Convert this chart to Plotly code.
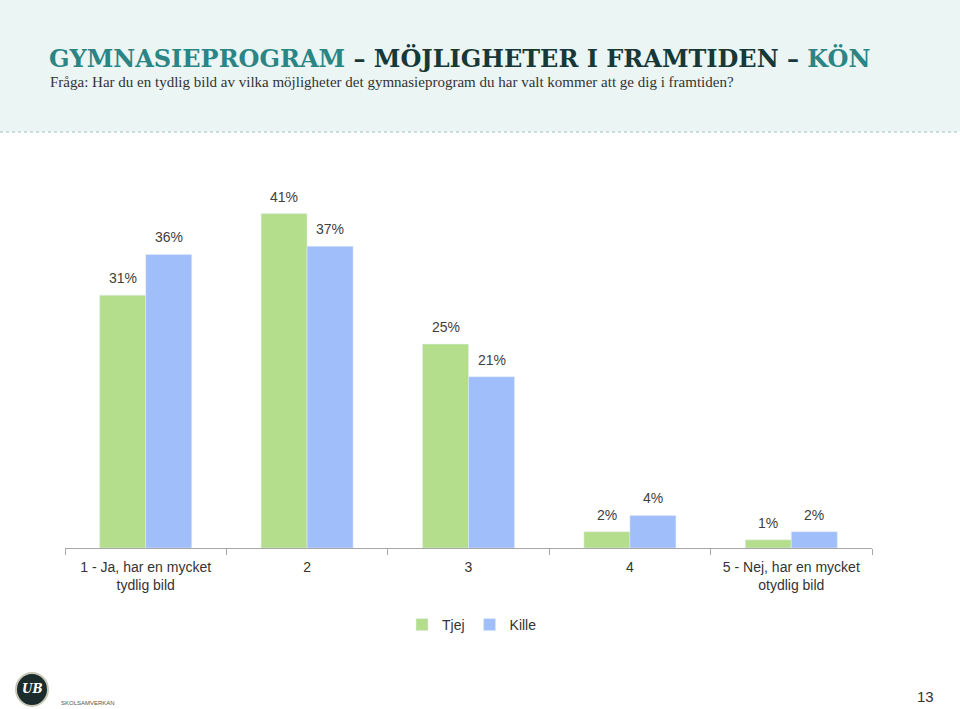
import plotly.graph_objects as go

categories = ["1 - Ja, har en mycket<br>tydlig bild", "2", "3", "4", "5 - Nej, har en mycket<br>otydlig bild"]
tjej = [31, 41, 25, 2, 1]
kille = [36, 37, 21, 4, 2]
series_names = ["Tjej", "Kille"]
colors = ["#b4de8c", "#a0befa"]

W, H = 960, 709
L, R, T, B = 65, 88, 181, 161
pw, ph = W - L - R, H - T - B

def px(x):
    return (x - L) / pw

def py(y):
    return (H - B - y) / ph

fig = go.Figure()
for name, vals, col in zip(series_names, [tjej, kille], colors):
    fig.add_trace(go.Bar(
        x=categories, y=vals, name=name, marker_color=col,
        hovertemplate="%{y}%<extra>" + name + "</extra>",
    ))

annotations = []
bar_off = 23  # half bar width in px
for vals, sh in zip([tjej, kille], [-bar_off, bar_off]):
    for i, v in enumerate(vals):
        annotations.append(dict(
            x=i, y=v, xref="x", yref="y", xshift=sh, yshift=7,
            xanchor="center", yanchor="bottom", showarrow=False,
            text=f"{v}%", font=dict(family="Liberation Sans", size=14, color="#404040"),
        ))

shapes = [
    dict(type="rect", xref="paper", yref="paper", x0=px(0), x1=px(W), y0=py(132), y1=py(0),
         fillcolor="#eaf5f4", line=dict(width=0), layer="below"),
    dict(type="line", xref="paper", yref="paper", x0=px(0), x1=px(W), y0=py(132), y1=py(132),
         line=dict(color="#c9dedd", width=2, dash="dot")),
    dict(type="circle", xref="paper", yref="paper", x0=px(16), x1=px(48), y0=py(706), y1=py(673),
         fillcolor="#1c2b2b", line=dict(color="#c8c8b8", width=2)),
]

annotations += [
    dict(xref="paper", yref="paper", x=px(47), y=py(59), xanchor="left", yanchor="middle", showarrow=False,
         text="<b><span style='color:#2b8585'>GYMNASIEPROGRAM</span> – MÖJLIGHETER I FRAMTIDEN – <span style='color:#2b8585'>KÖN</span></b>",
         font=dict(family="DejaVu Serif", size=24, color="#183838")),
    dict(xref="paper", yref="paper", x=px(48), y=py(82), xanchor="left", yanchor="middle", showarrow=False,
         text="Fråga: Har du en tydlig bild av vilka möjligheter det gymnasieprogram du har valt kommer att ge dig i framtiden?",
         font=dict(family="Liberation Serif", size=15, color="#333333")),
    dict(xref="paper", yref="paper", x=px(32), y=py(689), xanchor="center", yanchor="middle", showarrow=False,
         text="<i><b>UB</b></i>", font=dict(family="DejaVu Serif", size=12, color="#ffffff")),
    dict(xref="paper", yref="paper", x=px(88), y=py(703), xanchor="center", yanchor="middle", showarrow=False,
         text="SKOLSAMVERKAN", font=dict(family="Liberation Sans", size=6, color="#555555")),
    dict(xref="paper", yref="paper", x=px(925), y=py(696), xanchor="center", yanchor="middle", showarrow=False,
         text="13", font=dict(family="Liberation Sans", size=15, color="#333333")),
]

fig.update_layout(
    width=W, height=H,
    margin=dict(l=L, r=R, t=T, b=B, autoexpand=False),
    paper_bgcolor="white", plot_bgcolor="white",
    barmode="group", bargap=0.43, bargroupgap=0,
    showlegend=True,
    legend=dict(orientation="h", x=px(472), y=py(625), xanchor="center", yanchor="middle",
                font=dict(family="Liberation Sans", size=14, color="#333333"),
                itemwidth=30, traceorder="normal"),
    xaxis=dict(type="category", showline=True, linecolor="#a6a6a6", linewidth=1,
               ticks="outside", tickson="boundaries", ticklen=6, tickcolor="#a6a6a6",
               ticklabelstandoff=6,
               tickfont=dict(family="Liberation Sans", size=14, color="#333333"),
               showgrid=False),
    yaxis=dict(range=[0, 45], visible=False, showgrid=False),
    shapes=shapes, annotations=annotations,
)

fig.write_html("out.html", config={"displayModeBar": False},
               post_script="document.body.style.margin='0';document.body.style.overflow='hidden';")
